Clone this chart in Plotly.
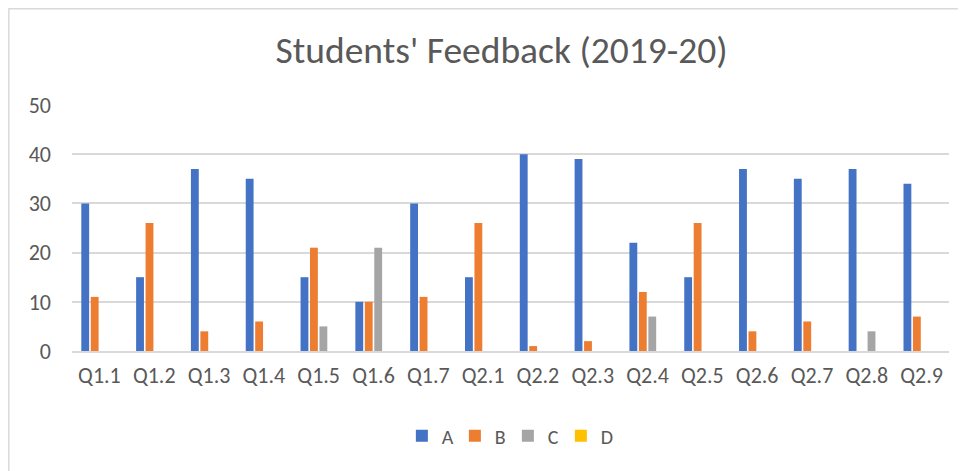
import plotly.graph_objects as go

questions = ['Q1.1', 'Q1.2', 'Q1.3', 'Q1.4', 'Q1.5', 'Q1.6', 'Q1.7', 'Q2.1',
             'Q2.2', 'Q2.3', 'Q2.4', 'Q2.5', 'Q2.6', 'Q2.7', 'Q2.8', 'Q2.9']
a_vals = [30, 15, 37, 35, 15, 10, 30, 15, 40, 39, 22, 15, 37, 35, 37, 34]
b_vals = [11, 26, 4, 6, 21, 10, 11, 26, 1, 2, 12, 26, 4, 6, 0, 7]
c_vals = [0, 0, 0, 0, 5, 21, 0, 0, 0, 0, 7, 0, 0, 0, 4, 0]
d_vals = [0] * 16

series = [('A', a_vals, '#4472C4'), ('B', b_vals, '#ED7D31'),
          ('C', c_vals, '#A5A5A5'), ('D', d_vals, '#FFC000')]

font_fam = 'Carlito, Calibri, Lato, sans-serif'
txt = '#595959'

fig = go.Figure()
for name, vals, col in series:
    fig.add_trace(go.Bar(x=questions, y=vals, name=name,
                         marker=dict(color=col, line=dict(width=0))))

# chart frame like the excel chart border
fig.add_shape(type='rect', xref='paper', yref='paper',
              x0=-0.072, x1=1.2, y0=-0.8, y1=1.391,
              line=dict(color='#D9D9D9', width=1.5), layer='below')

fig.update_layout(
    width=966, height=471,
    margin=dict(l=64, r=25, t=97, b=128),
    paper_bgcolor='white', plot_bgcolor='white',
    font=dict(family=font_fam, color=txt, size=20),
    title=dict(text="Students' Feedback (2019-20)", x=0.511, xref='container',
               xanchor='center', y=0.911, yanchor='middle',
               font=dict(size=37.5, color=txt, family=font_fam)),
    barmode='group', bargap=0.31, bargroupgap=0.17,
    legend=dict(orientation='h', x=0.497, xanchor='center', y=-0.345,
                yanchor='middle', font=dict(size=20, color=txt),
                itemwidth=30, entrywidth=8, entrywidthmode='pixels',
                traceorder='normal'),
    showlegend=True,
)
fig.update_xaxes(showgrid=False, showline=True, linecolor='#D9D9D9',
                 linewidth=1.5, ticks='', ticklabelstandoff=4,
                 tickfont=dict(size=22, color=txt))
fig.update_yaxes(range=[0, 50], dtick=10, showgrid=True, gridcolor='#D9D9D9',
                 gridwidth=1.5, zeroline=False, showline=False, ticks='',
                 ticklabelstandoff=20, tickfont=dict(size=22, color=txt))

fig.write_html("out.html")
